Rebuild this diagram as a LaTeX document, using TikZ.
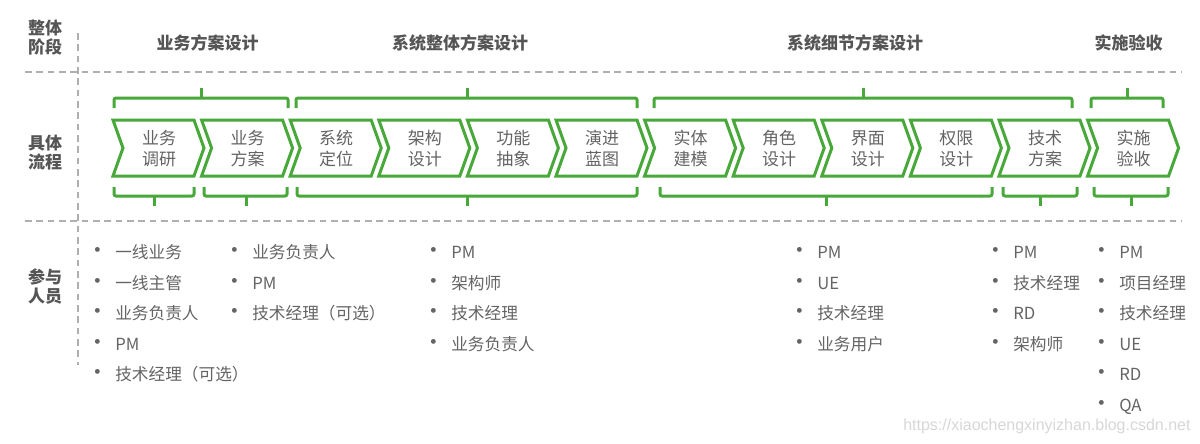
\documentclass[tikz,border=0pt]{standalone}
\usepackage{fontspec}
\setmainfont{Noto Sans CJK SC}
\newfontfamily\wmfont{Liberation Sans}
\definecolor{cgreen}{RGB}{72,168,58}
\definecolor{cline}{RGB}{175,175,175}
\definecolor{ctitle}{RGB}{85,85,85}
\definecolor{ctext}{RGB}{100,100,100}
\definecolor{cwm}{RGB}{215,215,215}
\newcommand\bitem[1]{\makebox[25.5pt][c]{\fontsize{17}{17}\selectfont •}#1}
\begin{document}
\begin{tikzpicture}[x=0.75pt,y=-0.75pt,
  sepline/.style={draw=cline, line width=1.5pt, dash pattern=on 5pt off 3.5pt},
  chev/.style={draw=cgreen, line width=2.25pt, line join=miter},
  brace/.style={draw=cgreen, line width=2.25pt, rounded corners=1.5pt},
  rowlab/.style={font=\bfseries\fontsize{12.75}{14.25}\selectfont, text=ctitle, align=center, inner sep=0pt},
  phase/.style={font=\bfseries\fontsize{12.75}{15}\selectfont, text=ctitle, inner sep=0pt},
  chevtext/.style={font=\fontsize{12.75}{15.75}\selectfont, text=ctext, align=center, inner sep=0pt},
  item/.style={font=\fontsize{12.5}{15}\selectfont, text=ctext, anchor=base west, inner sep=0pt}]
\useasboundingbox (0,0) rectangle (1200,443);
\fill[white] (0,0) rectangle (1200,443);

% separators
\coordinate (h1a) at (25,72);  \coordinate (h1b) at (1182,72);
\coordinate (h2a) at (25,221); \coordinate (h2b) at (1182,221);
\coordinate (va) at (78,33);   \coordinate (vb) at (78,365);
\draw[sepline] (h1a) -- (h1b);
\draw[sepline] (h2a) -- (h2b);
\draw[sepline] (va) -- (vb);

% row labels
\node[rowlab] (lab1) at (45,38) {整体\\阶段};
\node[rowlab] (lab2) at (45,153) {具体\\流程};
\node[rowlab] (lab3) at (45,286) {参与\\人员};

% phase titles
\node[phase] (p1) at (207.5,43) {业务方案设计};
\node[phase] (p2) at (460,43) {系统整体方案设计};
\node[phase] (p3) at (855,43) {系统细节方案设计};
\node[phase] (p4) at (1128.5,43) {实施验收};

% chevrons
\foreach \t [count=\i from 0] in {{业务\\调研},{业务\\方案},{系统\\定位},{架构\\设计},{功能\\抽象},{演进\\蓝图},{实体\\建模},{角色\\设计},{界面\\设计},{权限\\设计},{技术\\方案},{实施\\验收}} {
  \pgfmathsetmacro\xo{113+88.6*\i}
  \draw[chev] (\xo,120) -- ++(81,0) -- ++(10,28) -- ++(-10,28) -- ++(-81,0) -- ++(10,-28) -- cycle;
  \node[chevtext] (s\i) at (\xo+46,148.5) {\t};
}

% top braces
\foreach \a/\b/\c in {114/288/201, 296/637/467, 654/1072/863, 1091/1163/1127} {
  \draw[brace] (\a,108) -- (\a,98) -- (\b,98) -- (\b,108);
  \draw[brace] (\c,98) -- (\c,88);
}
% bottom braces
\foreach \a/\b/\c in {114/194/154, 204/287/246, 297/637/467, 660/992/826, 1003/1077/1040, 1094/1168/1131} {
  \draw[brace] (\a,187) -- (\a,196) -- (\b,196) -- (\b,187);
  \draw[brace] (\c,196) -- (\c,206);
}

% participants
\foreach \t [count=\k from 0] in {一线业务,一线主管,业务负责人,PM,技术经理（可选）}
  \node[item] (ca\k) at (81,258.5+30.6*\k) {\bitem{\t}};
\foreach \t [count=\k from 0] in {业务负责人,PM,技术经理（可选）}
  \node[item] (cb\k) at (218,258.5+30.6*\k) {\bitem{\t}};
\foreach \t [count=\k from 0] in {PM,架构师,技术经理,业务负责人}
  \node[item] (cc\k) at (417,258.5+30.6*\k) {\bitem{\t}};
\foreach \t [count=\k from 0] in {PM,UE,技术经理,业务用户}
  \node[item] (cd\k) at (783,258.5+30.6*\k) {\bitem{\t}};
\foreach \t [count=\k from 0] in {PM,技术经理,RD,架构师}
  \node[item] (ce\k) at (979,258.5+30.6*\k) {\bitem{\t}};
\foreach \t [count=\k from 0] in {PM,项目经理,技术经理,UE,RD,QA}
  \node[item] (cf\k) at (1085,258.5+30.6*\k) {\bitem{\t}};

% watermark
\node[anchor=base west, inner sep=0pt, text=cwm, font=\wmfont\fontsize{12}{14}\selectfont] (wm) at (903,430) {https://xiaochengxinyizhan.blog.csdn.net};
\end{tikzpicture}
\end{document}
